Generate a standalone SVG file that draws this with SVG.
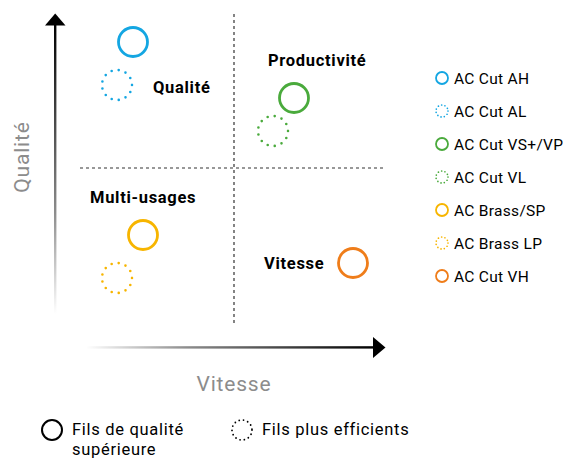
<svg xmlns="http://www.w3.org/2000/svg" width="563" height="460" viewBox="0 0 563 460">
<defs>
<linearGradient id="gv" x1="0" y1="1" x2="0" y2="0">
<stop offset="0" stop-color="#000" stop-opacity="0"/>
<stop offset="0.35" stop-color="#000" stop-opacity="0.45"/>
<stop offset="1" stop-color="#000" stop-opacity="1"/>
</linearGradient>
<linearGradient id="gh" x1="0" y1="0" x2="1" y2="0">
<stop offset="0" stop-color="#000" stop-opacity="0"/>
<stop offset="0.35" stop-color="#000" stop-opacity="0.45"/>
<stop offset="1" stop-color="#000" stop-opacity="1"/>
</linearGradient>
<style>
text{font-family:Roboto,"Liberation Sans",sans-serif}
.q{font-weight:bold;font-size:16.5px;letter-spacing:0.7px;fill:#000}
.lg{font-size:15.5px;letter-spacing:0.3px;fill:#000}
.bl{font-size:16.5px;letter-spacing:0.7px;fill:#000}
.ax{font-size:21px;letter-spacing:0.8px;fill:#8c8c8c}
.s{fill:none;stroke-width:2.8}
.d{fill:none;stroke-width:2.6;stroke-linecap:round;stroke-dasharray:0 7.2}
.ls{fill:none;stroke-width:1.8}
.ld{fill:none;stroke-width:1.7;stroke-linecap:round;stroke-dasharray:0 3.4}
.dash{stroke:#333;stroke-width:1.2;stroke-dasharray:3 3;fill:none}
</style>
</defs>
<rect width="563" height="460" fill="#fff"/>
<g id="axes">
<rect x="54" y="24" width="2.4" height="290" fill="url(#gv)"/>
<polygon points="45,25.5 55.2,13.5 65.5,25.5" fill="#000"/>
<rect x="86" y="346.2" width="288" height="2.4" fill="url(#gh)"/>
<polygon points="373,337 385.5,347.4 373,358" fill="#000"/>
<text class="ax" transform="translate(29,157) rotate(-90)" text-anchor="middle">Qualité</text>
<text class="ax" x="234" y="391" text-anchor="middle">Vitesse</text>
</g>
<g id="connectors">
<line class="dash" x1="234" y1="14" x2="234" y2="323"/>
<line class="dash" x1="80" y1="168" x2="386" y2="168"/>
</g>
<g id="quadrant-labels">
<text class="q" x="153" y="93">Qualité</text>
<text class="q" x="268" y="66">Productivité</text>
<text class="q" x="90" y="203">Multi-usages</text>
<text class="q" x="264" y="269">Vitesse</text>
</g>
<g id="ac-cut-ah"><circle class="s" cx="133" cy="42" r="14.5" stroke="#14a6e2"/></g>
<g id="ac-cut-al"><circle class="d" cx="117" cy="85" r="15" stroke="#14a6e2"/></g>
<g id="ac-cut-vs"><circle class="s" cx="294" cy="98" r="14.5" stroke="#4aaa3c"/></g>
<g id="ac-cut-vl"><circle class="d" cx="273" cy="131" r="15" stroke="#4aaa3c"/></g>
<g id="ac-brass-sp"><circle class="s" cx="143" cy="235" r="14.5" stroke="#f7b500"/></g>
<g id="ac-brass-lp"><circle class="d" cx="117" cy="278" r="15" stroke="#f7b500"/></g>
<g id="ac-cut-vh"><circle class="s" cx="353" cy="263" r="14.5" stroke="#ef7d1a"/></g>
<g id="legend">
<circle class="ls" cx="442" cy="78" r="6" stroke="#14a6e2"/>
<text class="lg" x="454" y="83.5">AC Cut AH</text>
<circle class="ld" cx="442" cy="111" r="6" stroke="#14a6e2"/>
<text class="lg" x="454" y="116.5">AC Cut AL</text>
<circle class="ls" cx="442" cy="144" r="6" stroke="#4aaa3c"/>
<text class="lg" x="454" y="149.5">AC Cut VS+/VP</text>
<circle class="ld" cx="442" cy="177" r="6" stroke="#4aaa3c"/>
<text class="lg" x="454" y="182.5">AC Cut VL</text>
<circle class="ls" cx="442" cy="210" r="6" stroke="#f7b500"/>
<text class="lg" x="454" y="215.5">AC Brass/SP</text>
<circle class="ld" cx="442" cy="243" r="6" stroke="#f7b500"/>
<text class="lg" x="454" y="248.5">AC Brass LP</text>
<circle class="ls" cx="442" cy="276" r="6" stroke="#ef7d1a"/>
<text class="lg" x="454" y="281.5">AC Cut VH</text>
</g>
<g id="bottom-legend">
<circle cx="52" cy="430" r="10" fill="none" stroke="#000" stroke-width="2"/>
<text class="bl" x="72" y="435">Fils de qualité</text>
<text class="bl" x="72" y="455">supérieure</text>
<circle cx="242" cy="430" r="10" fill="none" stroke="#000" stroke-width="1.8" stroke-linecap="round" stroke-dasharray="0 4.4"/>
<text class="bl" x="262" y="435">Fils plus efficients</text>
</g>
</svg>
